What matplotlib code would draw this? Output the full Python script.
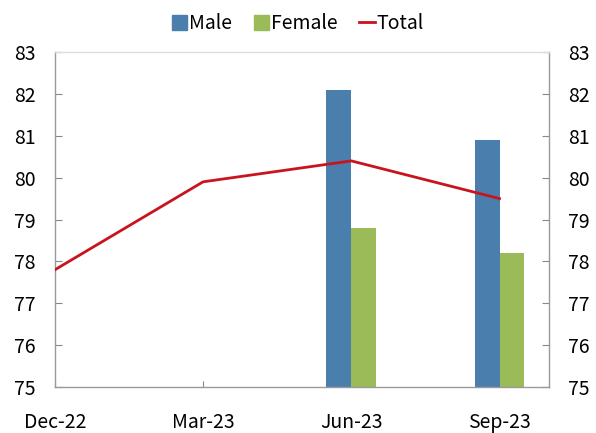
import numpy as np
import matplotlib.pyplot as plt
from matplotlib.patches import Patch
from matplotlib.lines import Line2D

plt.rcParams['font.family'] = ['Noto Sans CJK KR', 'DejaVu Sans']

quarters = ['Dec-22', 'Mar-23', 'Jun-23', 'Sep-23']
total = [77.8, 79.9, 80.4, 79.5]
male = [np.nan, np.nan, 82.1, 80.9]
female = [np.nan, np.nan, 78.8, 78.2]

c_male = '#4A7EAD'
c_female = '#9BBB59'
c_total = '#C8141E'

x = np.arange(len(quarters))
w = 0.168

fig = plt.figure(figsize=(5.96, 4.33), dpi=100)
ax = fig.add_axes([0.092, 0.106, 0.829, 0.774])

# bars start at the axis floor
ax.bar(x - w / 2, np.array(male) - 75, w, bottom=75, color=c_male, zorder=2)
ax.bar(x + w / 2, np.array(female) - 75, w, bottom=75, color=c_female, zorder=2)
ax.plot(x, total, color=c_total, lw=2, zorder=3)

ax.set_xlim(0, 3 + 1 / 3)
ax.set_ylim(75, 83)
ax.set_yticks(range(75, 84))
ax.set_xticks(x)
ax.set_xticklabels(quarters, fontsize=14)
ax.tick_params(axis='x', direction='in', length=4, color='#888888', pad=18)
ax.tick_params(axis='y', direction='in', length=5, color='#888888',
               labelsize=14, pad=14, right=True, labelright=True)
for s in ax.spines.values():
    s.set_color('#999999')
    s.set_linewidth(1)
ax.spines['top'].set_color('#dddddd')

handles = [Patch(color=c_male, label='Male'),
           Patch(color=c_female, label='Female'),
           Line2D([0], [0], color=c_total, lw=2, label='Total')]
fig.legend(handles=handles, loc='center', bbox_to_anchor=(0.5, 0.945), ncol=3,
           frameon=False, fontsize=14, handlelength=0.8, handletextpad=0.1,
           columnspacing=1.1, handleheight=0.8)

fig.savefig('out.png')
